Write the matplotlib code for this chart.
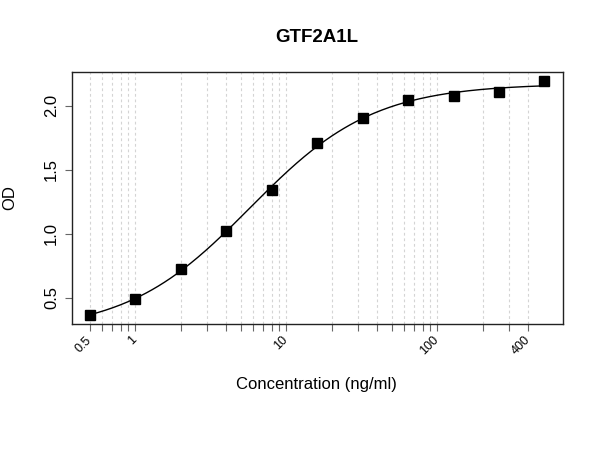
import numpy as np
import matplotlib
matplotlib.use("Agg")
import matplotlib.pyplot as plt
import matplotlib.transforms as mtransforms

plt.rcParams['font.family'] = ['Liberation Sans', 'DejaVu Sans']

# Datos
conc = [0.5, 1, 2, 4, 8, 16, 32, 64, 128, 256, 512]
od = [0.364, 0.488, 0.722, 1.021, 1.340, 1.704, 1.904, 2.047, 2.075, 2.104, 2.192]
titulo = "GTF2A1L"
xticks_lab = [0.5, 1, 10, 100, 400]
xticks_lab_txt = ["0.5", "1", "10", "100", "400"]
xticks_todos = [0.5, 0.6, 0.7, 0.8, 0.9, 1, 2, 3, 4, 5, 6, 7, 8, 9, 10,
                20, 30, 40, 50, 60, 70, 80, 90, 100, 200, 300, 400]
yticks = [0.5, 1.0, 1.5, 2.0]

x = np.array(conc, dtype=float)
y = np.array(od, dtype=float)


# Ajuste logístico de 4 parámetros (4PL) por mínimos cuadrados
def f4pl(p, xx):
    a, b, c, d = p
    return d + (a - d) / (1 + (xx / c) ** b)


def ajustar(xx, yy, p0, iters=200):
    p = np.array(p0, dtype=float)
    lam = 1e-3
    for _ in range(iters):
        r = yy - f4pl(p, xx)
        J = np.zeros((len(xx), len(p)))
        for k in range(len(p)):
            dp = np.zeros_like(p)
            dp[k] = 1e-6 * max(abs(p[k]), 1e-3)
            J[:, k] = (f4pl(p + dp, xx) - f4pl(p, xx)) / dp[k]
        A = J.T @ J
        g = J.T @ r
        paso = np.linalg.solve(A + lam * np.diag(np.diag(A)), g)
        nuevo = p + paso
        if nuevo[2] > 0 and np.sum((yy - f4pl(nuevo, xx)) ** 2) < np.sum(r ** 2):
            p = nuevo
            lam *= 0.5
        else:
            lam *= 5
    return p


p = ajustar(x, y, [0.3, 1.2, 6.0, 2.2])
xs = np.logspace(np.log10(x.min()), np.log10(x.max()), 300)

fig = plt.figure(figsize=(6, 4.5), dpi=100)
ax = fig.add_axes([0.1195, 0.2793, 0.8183, 0.5614])

for xv in xticks_todos:
    ax.axvline(xv, color='#d4d4d4', lw=0.8, ls=(0, (2.5, 2.5)), zorder=0)

ax.plot(xs, f4pl(p, xs), color='black', lw=1.0, zorder=2)
ax.plot(x, y, 's', color='black', ms=7.5, zorder=3)

ax.set_xscale('log')
lx0, lx1 = np.log10(x.min()), np.log10(x.max())
ex = 0.04 * (lx1 - lx0)
ax.set_xlim(10 ** (lx0 - ex), 10 ** (lx1 + ex))
ey = 0.04 * (y.max() - y.min())
ax.set_ylim(y.min() - ey, y.max() + ey)

ax.set_xticks(xticks_todos)
ax.set_xticklabels([xticks_lab_txt[xticks_lab.index(v)] if v in xticks_lab else ""
                    for v in xticks_todos])
ax.xaxis.set_minor_locator(matplotlib.ticker.NullLocator())
ax.tick_params(axis='x', length=5, color='#666666', labelsize=9, pad=2)
offset = mtransforms.ScaledTranslation(4 / 100, 0, fig.dpi_scale_trans)
for lab in ax.get_xticklabels():
    lab.set_rotation(45)
    lab.set_ha('right')
    lab.set_va('top')
    lab.set_transform(lab.get_transform() + offset)

ax.set_yticks(yticks)
ax.set_yticklabels([f"{v:.1f}" for v in yticks], rotation=90, va='center')
ax.tick_params(axis='y', length=5, color='#666666', labelsize=12, pad=4)

for s in ax.spines.values():
    s.set_color('#222222')
    s.set_linewidth(1.0)

fig.text(0.528, 1 - 37 / 450, titulo, ha='center', va='center',
         fontsize=13.5, fontweight='bold')
fig.text(0.528, 1 - 385 / 450, "Concentration (ng/ml)", ha='center', va='center',
         fontsize=12)
fig.text(10 / 600, 1 - 198 / 450, "OD", ha='center', va='center',
         fontsize=12, rotation=90)

fig.savefig("out.png", dpi=100)
